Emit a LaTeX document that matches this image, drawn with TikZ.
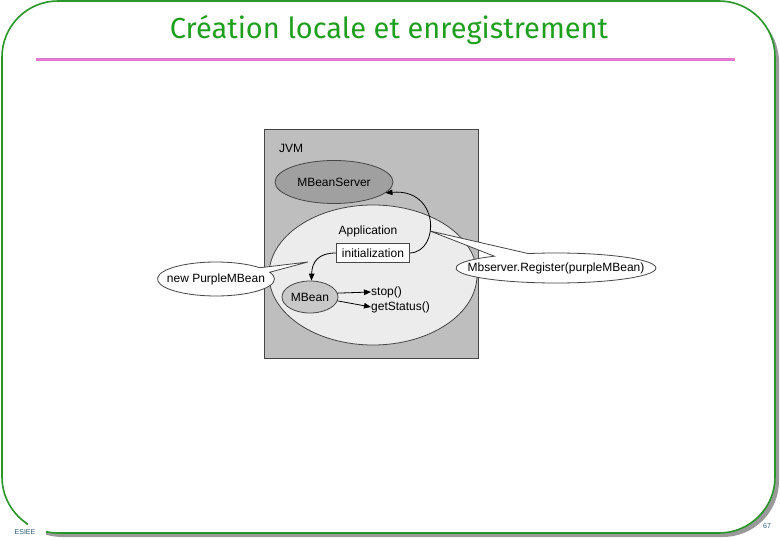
\documentclass[tikz,border=0pt]{standalone}
\usepackage{fontspec}
\setmainfont{Liberation Sans}
\newfontfamily\titlefont{Fira Sans}
\usetikzlibrary{shapes.geometric,shapes.callouts,arrows.meta}
\definecolor{framegreen}{RGB}{40,150,40}
\definecolor{titlegreen}{RGB}{30,160,30}
\definecolor{rulepink}{RGB}{225,120,210}
\definecolor{footblue}{RGB}{40,90,120}
\definecolor{jvmgray}{RGB}{190,190,190}
\definecolor{mbsgray}{RGB}{160,160,160}
\definecolor{appgray}{RGB}{236,236,236}
\definecolor{mbeangray}{RGB}{200,200,200}
\definecolor{edgegray}{RGB}{70,70,70}
\tikzset{
  diagtext/.style={font=\fontsize{12}{14}\selectfont, text=black, inner sep=0pt},
  bubble/.style={ellipse, draw=edgegray, line width=0.8pt, inner sep=0pt, diagtext},
  callbubble/.style={ellipse callout, draw=edgegray, fill=white, line width=0.8pt, inner sep=0pt, callout pointer arc=18},
  arr/.style={draw=black, line width=0.8pt, -{Triangle[length=7pt,width=5.5pt]}},
}
\begin{document}
\begin{tikzpicture}[x=1pt,y=-1pt]
\useasboundingbox (0,0) rectangle (780,540);
% slide frame
\fill[gray!80, rounded corners=56pt] (6,6) rectangle (779,537);
\filldraw[fill=white, draw=framegreen, line width=1.6pt, rounded corners=56pt] (2,1) rectangle (775,533);
\fill[white] (28,517) rectangle (46,540);
\node[font=\titlefont\fontsize{29}{34}\selectfont, text=titlegreen, inner sep=0pt] (title) at (389,30) {Création locale et enregistrement};
\draw[rulepink, line width=3pt] (36,60) -- (735,60);
\node[font=\fontsize{7}{8}\selectfont, text=footblue, inner sep=0pt] (esiee) at (25,532) {ESIEE};
\node[font=\fontsize{7}{8}\selectfont, text=footblue, inner sep=0pt] (page) at (767,526) {67};
% diagram
\draw[fill=jvmgray, draw=edgegray, line width=0.8pt] (264,129) rectangle (478,358);
\node[diagtext, anchor=west] (jvm) at (279,148) {JVM};
\node[bubble, fill=mbsgray, minimum width=118pt, minimum height=43pt] (mbs) at (334,182) {MBeanServer};
\node[bubble, fill=appgray, minimum width=208pt, minimum height=140pt] (app) at (373,275) {};
\node[diagtext] (applabel) at (368,231) {Application};
\node[callbubble, minimum width=117pt, minimum height=34pt, callout absolute pointer={(308,262)}] (newpb) at (216,279) {};
\node[diagtext] (newpbtext) at (newpb.center) {new PurpleMBean};
\node[callbubble, callout pointer arc=22, minimum width=200pt, minimum height=30pt, callout absolute pointer={(430,231)}] (reg) at (556,268) {};
\node[diagtext] (regtext) at (reg.center) {Mbserver.Register(purpleMBean)};
\node[draw=edgegray, fill=white, line width=0.8pt, diagtext, minimum width=73pt, minimum height=19pt] (init) at (373,253) {initialization};
\node[bubble, fill=mbeangray, minimum width=56pt, minimum height=32pt] (mbean) at (310,297) {MBean};
\node[diagtext, anchor=west] (stop) at (371,292) {stop()};
\node[diagtext, anchor=west] (status) at (371,307) {getStatus()};
\draw[arr] (init.east) .. controls (440,252) and (440,188) .. (mbs.-12);
\draw[arr] (init.west) .. controls (318,253) and (312,262) .. (mbean.85);
\draw[arr] (mbean.8) -- (stop.west);
\draw[arr] (mbean.-8) -- (status.west);
\end{tikzpicture}
\end{document}
